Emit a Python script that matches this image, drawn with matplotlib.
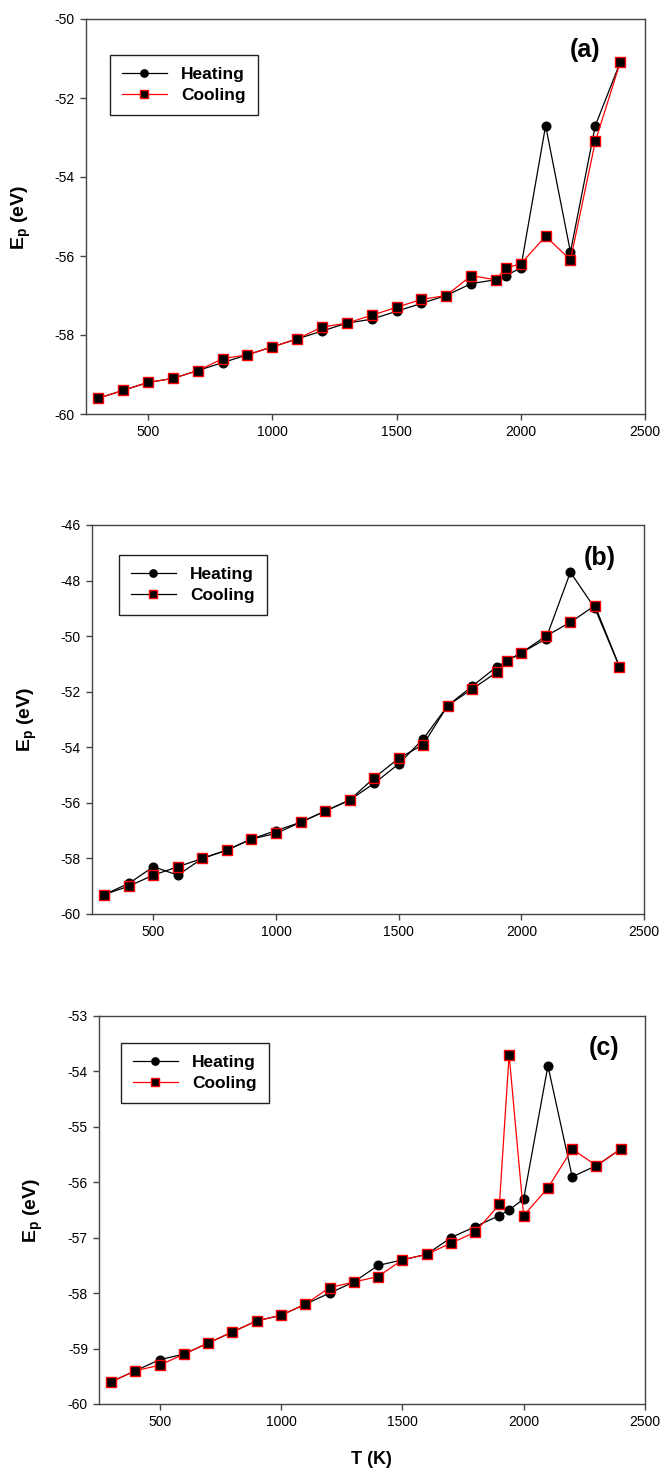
import matplotlib
matplotlib.use("Agg")
import matplotlib.pyplot as plt

plt.rcParams["font.family"] = ["Liberation Sans", "DejaVu Sans"]
plt.rcParams["axes.unicode_minus"] = False
plt.rcParams["mathtext.fontset"] = "custom"
plt.rcParams["mathtext.rm"] = "Liberation Sans"
plt.rcParams["mathtext.bf"] = "Liberation Sans:bold"

# ── Data ──────────────────────────────────────────────────────────────────────

T = [300, 400, 500, 600, 700, 800, 900, 1000, 1100, 1200, 1300, 1400,
     1500, 1600, 1700, 1800, 1900, 1940, 2000, 2100, 2200, 2300, 2400]

heat_a = [-59.6, -59.4, -59.2, -59.1, -58.9, -58.7, -58.5, -58.3, -58.1, -57.9,
          -57.7, -57.6, -57.4, -57.2, -57.0, -56.7, -56.6, -56.5, -56.3, -52.7,
          -55.9, -52.7, -51.1]
cool_a = [-59.6, -59.4, -59.2, -59.1, -58.9, -58.6, -58.5, -58.3, -58.1, -57.8,
          -57.7, -57.5, -57.3, -57.1, -57.0, -56.5, -56.6, -56.3, -56.2, -55.5,
          -56.1, -53.1, -51.1]

heat_b = [-59.3, -58.9, -58.3, -58.6, -58.0, -57.7, -57.3, -57.0, -56.7, -56.3,
          -55.9, -55.3, -54.6, -53.7, -52.5, -51.8, -51.1, -50.9, -50.6, -50.1,
          -47.7, -49.0, -51.1]
cool_b = [-59.3, -59.0, -58.6, -58.3, -58.0, -57.7, -57.3, -57.1, -56.7, -56.3,
          -55.9, -55.1, -54.4, -53.9, -52.5, -51.9, -51.3, -50.9, -50.6, -50.0,
          -49.5, -48.9, -51.1]

heat_c = [-59.6, -59.4, -59.2, -59.1, -58.9, -58.7, -58.5, -58.4, -58.2, -58.0,
          -57.8, -57.5, -57.4, -57.3, -57.0, -56.8, -56.6, -56.5, -56.3, -53.9,
          -55.9, -55.7, -55.4]
cool_c = [-59.6, -59.4, -59.3, -59.1, -58.9, -58.7, -58.5, -58.4, -58.2, -57.9,
          -57.8, -57.7, -57.4, -57.3, -57.1, -56.9, -56.4, -53.7, -56.6, -56.1,
          -55.4, -55.7, -55.4]

x_ticks = [500, 1000, 1500, 2000, 2500]

# panel label, heating, cooling, cooling line colour, y range, y step,
# axes box in pixels (left, right, top, bottom), legend corner, label spots
PANELS = [
    ("(a)", heat_a, cool_a, "red",   (-60, -50), 2,
     (86, 645, 19, 414), (101, 46), (585, 50), (21, 217)),
    ("(b)", heat_b, cool_b, "black", (-60, -46), 2,
     (92, 644, 525, 914), (110, 546), (600, 558), (27, 719)),
    ("(c)", heat_c, cool_c, "red",   (-60, -53), 1,
     (99, 645, 1016, 1404), (112, 1034), (604, 1048), (33, 1210)),
]

W, H = 664, 1472
fig = plt.figure(figsize=(W / 100, H / 100), dpi=100)

for tag, heat, cool, ccol, ylim, ystep, box, leg_xy, tag_xy, ylab_xy in PANELS:
    l, r, t, b = box
    ax = fig.add_axes([l / W, 1 - b / H, (r - l) / W, (b - t) / H])

    ax.plot(T, heat, "-o", color="black", lw=0.9, ms=6.2, label="Heating")
    ax.plot(T, cool, "-s", color=ccol, lw=0.9, ms=6.5, mfc="black",
            mec="red", mew=1.0, label="Cooling")

    ax.set_xlim(250, 2500)
    ax.set_ylim(*ylim)
    ax.set_xticks(x_ticks)
    ax.set_yticks(range(ylim[0], ylim[1] + 1, ystep))
    ax.tick_params(direction="out", length=4, width=1, labelsize=10,
                   colors="#444444", labelcolor="black", pad=4)
    for s in ax.spines.values():
        s.set_color("#444444")
        s.set_linewidth(1.0)

    leg = ax.legend(loc="upper left", bbox_to_anchor=(leg_xy[0] / W, 1 - leg_xy[1] / H),
                    bbox_transform=fig.transFigure, fancybox=False, framealpha=1,
                    edgecolor="#222222", handlelength=2.6, borderpad=0.7,
                    labelspacing=0.35, markerscale=0.85,
                    prop={"weight": "bold", "size": 12.5})
    leg.get_frame().set_linewidth(1.0)

    fig.text(tag_xy[0] / W, 1 - tag_xy[1] / H, tag, fontsize=18, fontweight="bold",
             ha="center", va="center")
    fig.text(ylab_xy[0] / W, 1 - ylab_xy[1] / H, r"E$_{\mathbf{p}}$ (eV)", fontsize=14,
             fontweight="bold", rotation=90, ha="center", va="center")

fig.text(371 / W, 1 - 1460 / H, "T (K)", fontsize=13, fontweight="bold",
         ha="center", va="center")

fig.savefig("out.png", dpi=100)
